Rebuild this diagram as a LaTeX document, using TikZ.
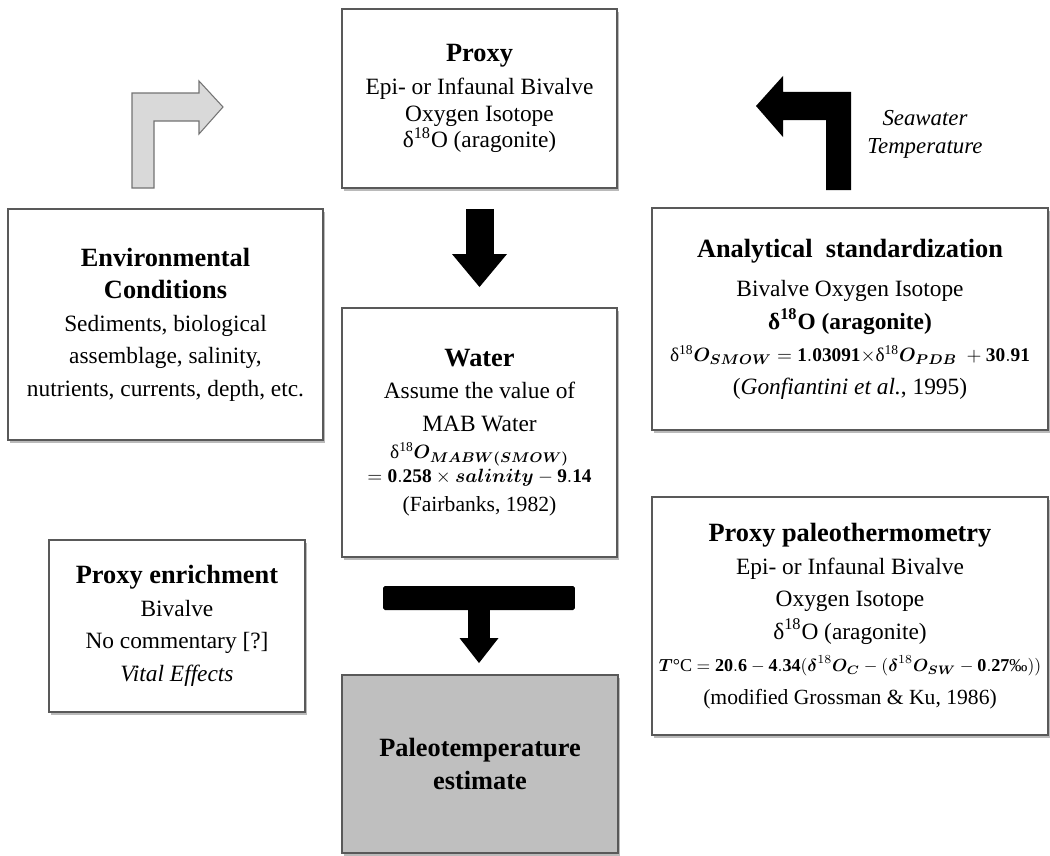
\documentclass[tikz,border=0pt]{standalone}
\usepackage{fontspec}
\setmainfont{Liberation Serif}
\usepackage{amsmath}
\usepackage{tikz}
\usetikzlibrary{shapes,arrows.meta,shadows,calc,positioning}
\newcommand{\boxtitle}{\fontsize{15}{18}\selectfont\bfseries}
\newcommand{\eqsize}{\fontsize{11}{14}\selectfont}
\newcommand{\dEO}{δ\textsuperscript{18}O}
\tikzset{
  box/.style={draw=black!65, line width=0.8pt, fill=white, align=center, text centered, inner sep=0pt, outer sep=0pt,
    font=\fontsize{13.3}{18.5}\selectfont,
    drop shadow={shadow xshift=1.3pt, shadow yshift=-1.5pt, opacity=0.45, fill=black!60}},
  grey_box/.style={box, fill=black!25},
  t_bar/.style={fill=black, inner sep=0pt, outer sep=0pt, minimum width=3.84cm, minimum height=0.48cm, rounded corners=1pt},
  blk_arrow/.style={line width=0.56cm, -{Triangle[length=0.66cm, width=1.1cm, line width=0pt]}},
  blk_arrow_s/.style={line width=0.44cm, -{Triangle[length=0.5cm, width=0.78cm, line width=0pt]}},
  side_note/.style={align=center, font=\fontsize{13}{16}\selectfont\itshape}
}
\begin{document}
\begin{tikzpicture}[x=0.02cm, y=-0.02cm]
	\useasboundingbox (0,0) rectangle (1050,855);
	\node[box, minimum width=5.5cm, minimum height=3.58cm, font=\fontsize{13.3}{15}\selectfont] (proxy) at (479.5,98.5)
		{{\boxtitle Proxy}\\[4pt]Epi- or Infaunal Bivalve\\Oxygen Isotope\\\dEO{} (aragonite)};
	\node[box, minimum width=6.3cm, minimum height=4.62cm] (env) at (165.5,324.5)
		{{\boxtitle Environmental}\\{\boxtitle Conditions}\\Sediments, biological\\assemblage, salinity,\\nutrients, currents, depth, etc.};
	\node[box, minimum width=5.5cm, minimum height=4.98cm] (water) at (479.5,432.5)
		{{\boxtitle Water}\\Assume the value of\\MAB Water\\[-3pt]
		{\eqsize δ\textsuperscript{18}$\boldsymbol{O_{MABW(SMOW)}}$}\\[-5pt]
		{\eqsize $=\mathbf{0.258}\times\boldsymbol{salinity}-\mathbf{9.14}$}\\[-2pt]
		{\fontsize{12.3}{14}\selectfont(Fairbanks, 1982)}};
	\node[box, minimum width=5.12cm, minimum height=3.44cm] (enrich) at (177,626)
		{{\boxtitle Proxy enrichment}\\Bivalve\\No commentary [?]\\\textit{Vital Effects}};
	\node[box, minimum width=7.92cm, minimum height=4.44cm] (analyt) at (850,319)
		{{\boxtitle Analytical\ \ standardization}\\[4pt]Bivalve Oxygen Isotope\\\textbf{\dEO{} (aragonite)}\\
		{\eqsize δ\textsuperscript{18}$\boldsymbol{O_{SMOW}}=\mathbf{1.03091}\times$δ\textsuperscript{18}$\boldsymbol{O_{PDB}}\;+\mathbf{30.91}$}\\
		(\textit{Gonfiantini et al.}, 1995)};
	\node[box, minimum width=7.92cm, minimum height=4.76cm] (pthermo) at (850,616)
		{{\boxtitle Proxy paleothermometry}\\Epi- or Infaunal Bivalve\\Oxygen Isotope\\\dEO{} (aragonite)\\
		{\fontsize{10.3}{13}\selectfont $\boldsymbol{T}$°C $=\mathbf{20.6}-\mathbf{4.34}(\boldsymbol{\delta}^{18}\boldsymbol{O_{C}}-(\boldsymbol{\delta}^{18}\boldsymbol{O_{SW}}-\mathbf{0.27}\text{‰}))$}\\
		{\fontsize{12.3}{14}\selectfont(modified Grossman \& Ku, 1986)}};
	\node[grey_box, minimum width=5.52cm, minimum height=3.56cm] (paleo) at (480,764)
		{{\boxtitle Paleotemperature}\\{\boxtitle estimate}};
	\node[t_bar] (tbar) at (479,598) {};
	\node[side_note] (sea) at (925,134) {Seawater\\Temperature};
	\draw[blk_arrow, shorten <=0.42cm, shorten >=0.42cm] (proxy.south) -- (water.north);
	\draw[blk_arrow_s, shorten >=0.24cm] (tbar.south) -- (tbar.south |- paleo.north);
	\filldraw[fill=black!15, draw=black!55, line width=0.6pt] (132,188) -- (132,93) -- (199,93) -- (199,81) -- (223,107)
		-- (199,134) -- (199,121) -- (154,121) -- (154,188) -- cycle;
	\fill (851,190) -- (851,92) -- (783,92) -- (783,76) -- (756,106) -- (783,137) -- (783,120) -- (826,120) -- (826,190) -- cycle;
\end{tikzpicture}
\end{document}
